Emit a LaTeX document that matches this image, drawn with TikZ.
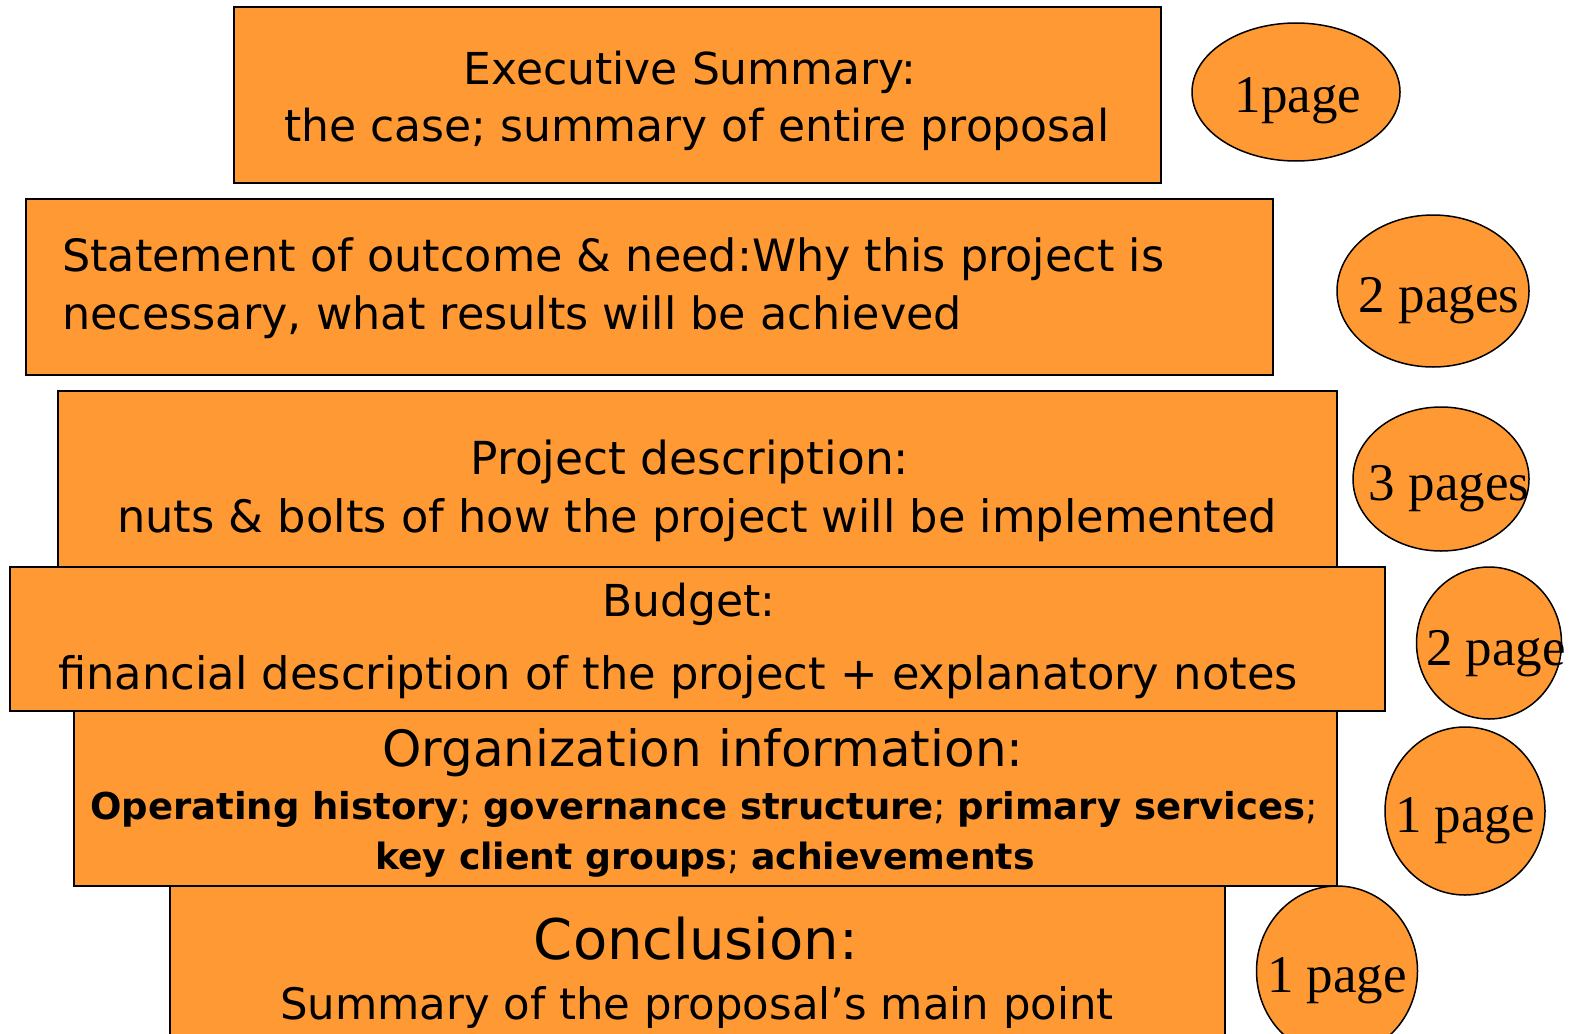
\documentclass[tikz,border=0pt]{standalone}
\usepackage{fontspec}
\setmainfont{DejaVu Sans}
\newfontfamily\tmfont{Liberation Serif}
\usetikzlibrary{shapes.geometric}
\definecolor{boxorange}{HTML}{FF9933}
\tikzset{
  box/.style={draw=black, line width=1.5pt, fill=boxorange, rectangle, inner sep=0pt},
  oval/.style={draw=black, line width=1.5pt, fill=boxorange, ellipse, inner sep=0pt},
  txt/.style={anchor=base, inner sep=0pt, font=\fontsize{44}{52}\selectfont},
  ltxt/.style={anchor=base west, inner sep=0pt, font=\fontsize{44.5}{52}\selectfont},
  ptxt/.style={anchor=base, inner sep=0pt, font=\tmfont\fontsize{53}{60}\selectfont},
}
\begin{document}
\begin{tikzpicture}[x=1pt,y=-1pt]
\useasboundingbox (0,0) rectangle (1570,1033);
\clip (0,0) rectangle (1570,1033);
% boxes
\node[box, minimum width=927, minimum height=176] (exec) at (697.5,95) {};
\node[box, minimum width=1247, minimum height=176] (stmt) at (649.5,287) {};
\node[box, minimum width=1279, minimum height=176] (proj) at (697.5,479) {};
\node[box, minimum width=1375, minimum height=144] (budg) at (697.5,639) {};
\node[box, minimum width=1263, minimum height=175] (org) at (705.5,798.5) {};
\node[box, minimum width=1055, minimum height=200] (concl) at (697.5,986) {};
% texts
\node[txt] (t1a) at (690,84) {Executive Summary:};
\node[txt] (t1b) at (697,141) {the case; summary of entire proposal};
\node[ltxt] (t2a) at (62,271) {Statement of outcome \& need:Why this project is};
\node[ltxt] (t2b) at (62,329) {necessary, what results will be achieved};
\node[txt, font=\fontsize{45.5}{52}\selectfont] (t3a) at (690,474) {Project description:};
\node[txt, font=\fontsize{44.7}{52}\selectfont] (t3b) at (697,532) {nuts \& bolts of how the project will be implemented};
\node[txt] (t4a) at (689,616) {Budget:};
\node[txt, font=\fontsize{44.8}{52}\selectfont] (t4b) at (678,689) {financial description of the project + explanatory notes};
\node[txt, font=\fontsize{50}{58}\selectfont] (t5a) at (703,766) {Organization information:};
\node[txt, font=\fontsize{37}{44}\selectfont] (t5b) at (704,819) {{\bfseries Operating history}; {\bfseries governance structure}; {\bfseries primary services};};
\node[txt, font=\fontsize{36.2}{44}\selectfont] (t5c) at (705,869) {{\bfseries key client groups}; {\bfseries achievements}};
\node[txt, font=\fontsize{56}{64}\selectfont] (t6a) at (696,959) {Conclusion:};
\node[txt, font=\fontsize{43.4}{52}\selectfont] (t6b) at (697,1019) {Summary of the proposal’s main point};
% ovals
\node[oval, minimum width=208, minimum height=138] (o1) at (1296,92) {};
\node[oval, minimum width=192, minimum height=152] (o2) at (1433,291) {};
\node[oval, minimum width=176, minimum height=144] (o3) at (1441,479) {};
\node[oval, minimum width=145, minimum height=152] (o4) at (1489,643) {};
\node[oval, minimum width=160, minimum height=168] (o5) at (1465,811) {};
\node[oval, minimum width=161, minimum height=170] (o6) at (1337,971) {};
\node[ptxt] (p1) at (1298,112) {1page};
\node[ptxt] (p2) at (1439,312) {2 pages};
\node[ptxt] (p3) at (1449,500) {3 pages};
\node[ptxt] (p4) at (1496,665) {2 page};
\node[ptxt] (p5) at (1465,832) {1 page};
\node[ptxt] (p6) at (1337,992) {1 page};
\end{tikzpicture}
\end{document}
